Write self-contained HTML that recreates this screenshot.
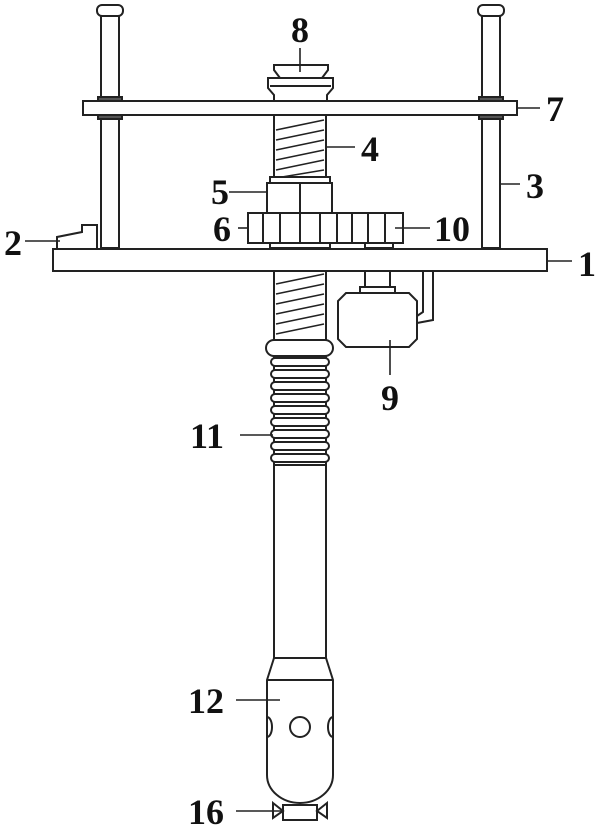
<!DOCTYPE html>
<html><head><style>html,body{margin:0;padding:0;background:#fff}svg{display:block}</style></head><body>
<svg width="600" height="830" viewBox="0 0 600 830" xmlns="http://www.w3.org/2000/svg">
<g fill="none" stroke="#222" stroke-width="2">
<!-- rods -->
<rect x="101" y="16" width="18" height="232" fill="#fff"/>
<rect x="482" y="16" width="18" height="232" fill="#fff"/>
<rect x="97" y="5" width="26" height="11" rx="5" fill="#fff"/>
<rect x="478" y="5" width="26" height="11" rx="5" fill="#fff"/>
<rect x="98" y="97" width="24" height="4" fill="#555"/>
<rect x="98" y="115" width="24" height="4" fill="#555"/>
<rect x="479" y="97" width="24" height="4" fill="#555"/>
<rect x="479" y="115" width="24" height="4" fill="#555"/>
<!-- top knob 8 -->
<path d="M274 65 H328 V70 L322 78 H280 L274 70 Z" fill="#fff"/>
<path d="M268 78 H333 V88 L327 95 V101 H274 V95 L268 88 Z" fill="#fff"/>
<line x1="270" y1="86" x2="331" y2="86"/>
<!-- top plate 7 -->
<rect x="83" y="101" width="434" height="14" fill="#fff"/>
<!-- screw upper -->
<rect x="274" y="115" width="52" height="63" fill="#fff"/>
<g stroke-width="1.6">
<line x1="276" y1="130" x2="324" y2="120"/><line x1="276" y1="140" x2="324" y2="130"/>
<line x1="276" y1="150" x2="324" y2="140"/><line x1="276" y1="160" x2="324" y2="150"/>
<line x1="276" y1="170" x2="324" y2="160"/><line x1="276" y1="178" x2="324" y2="170"/>
</g>
<!-- nut 5 -->
<rect x="270" y="177" width="60" height="6" fill="#fff"/>
<rect x="267" y="183" width="65" height="30" fill="#fff"/>
<line x1="300" y1="183" x2="300" y2="213"/>
<!-- gear 6/10 -->
<rect x="248" y="213" width="155" height="30" fill="#fff"/>
<g>
<line x1="263" y1="213" x2="263" y2="243"/><line x1="280" y1="213" x2="280" y2="243"/>
<line x1="300" y1="213" x2="300" y2="243"/><line x1="320" y1="213" x2="320" y2="243"/>
<line x1="337" y1="213" x2="337" y2="243"/><line x1="352" y1="213" x2="352" y2="243"/>
<line x1="368" y1="213" x2="368" y2="243"/><line x1="385" y1="213" x2="385" y2="243"/>
</g>
<rect x="270" y="243" width="60" height="5" fill="#fff"/>
<rect x="365" y="243" width="28" height="5" fill="#fff"/>
<!-- block 2 -->
<path d="M57 248 V237 L82 232 V225 H97 V248" fill="#fff"/>
<!-- base plate 1 -->
<rect x="53" y="249" width="494" height="22" fill="#fff"/>
<!-- screw lower -->
<rect x="274" y="271" width="52" height="70" fill="#fff"/>
<g stroke-width="1.6">
<line x1="276" y1="284" x2="324" y2="274"/><line x1="276" y1="294" x2="324" y2="284"/>
<line x1="276" y1="304" x2="324" y2="294"/><line x1="276" y1="314" x2="324" y2="304"/>
<line x1="276" y1="324" x2="324" y2="314"/><line x1="276" y1="334" x2="324" y2="324"/>
</g>
<!-- motor 9 -->
<rect x="365" y="271" width="25" height="18" fill="#fff"/>
<rect x="360" y="287" width="35" height="6" fill="#fff"/>
<path d="M346 293 H409 L417 301 V339 L409 347 H346 L338 339 V301 Z" fill="#fff"/>
<path d="M423 271 V312 L417 316 M433 271 V320 L417 323"/>
<!-- collar -->
<rect x="266" y="340" width="67" height="16" rx="8" fill="#fff"/>
<!-- bellows -->
<rect x="274" y="356" width="52" height="110" fill="#fff"/>
<g fill="#fff">
<rect x="271" y="358" width="58" height="8" rx="4"/><rect x="271" y="370" width="58" height="8" rx="4"/>
<rect x="271" y="382" width="58" height="8" rx="4"/><rect x="271" y="394" width="58" height="8" rx="4"/>
<rect x="271" y="406" width="58" height="8" rx="4"/><rect x="271" y="418" width="58" height="8" rx="4"/>
<rect x="271" y="430" width="58" height="8" rx="4"/><rect x="271" y="442" width="58" height="8" rx="4"/>
<rect x="271" y="454" width="58" height="8" rx="4"/>
</g>
<!-- tube -->
<rect x="274" y="465" width="52" height="193" fill="#fff"/>
<path d="M274 658 L267 680 V775 A33 28 0 0 0 333 775 V680 L326 658 Z" fill="#fff"/>
<line x1="267" y1="680" x2="333" y2="680"/>
<circle cx="300" cy="727" r="10"/>
<path d="M267 717 A5 10 0 0 1 267 737"/>
<path d="M333 717 A5 10 0 0 0 333 737"/>
<!-- nozzle 16 -->
<rect x="283" y="805" width="34" height="15" fill="#fff"/>
<path d="M273 803 L283 811 L273 818 Z M327 803 L317 811 L327 818 Z" fill="#fff"/>
<!-- leader lines -->
<g stroke-width="1.6">
<line x1="300" y1="48" x2="300" y2="72"/>
<line x1="517" y1="108" x2="540" y2="108"/>
<line x1="326" y1="147" x2="355" y2="147"/>
<line x1="500" y1="184" x2="520" y2="184"/>
<line x1="229" y1="192" x2="268" y2="192"/>
<line x1="238" y1="228" x2="248" y2="228"/>
<line x1="395" y1="228" x2="430" y2="228"/>
<line x1="25" y1="241" x2="60" y2="241"/>
<line x1="547" y1="261" x2="572" y2="261"/>
<line x1="390" y1="340" x2="390" y2="375"/>
<line x1="240" y1="435" x2="273" y2="435"/>
<line x1="236" y1="700" x2="280" y2="700"/>
<line x1="236" y1="811" x2="283" y2="811"/>
</g>
</g>
<g font-family="Liberation Serif, serif" font-weight="bold" font-size="36" fill="#111" text-anchor="middle">
<text x="300" y="42">8</text>
<text x="555" y="121">7</text>
<text x="370" y="161">4</text>
<text x="535" y="198">3</text>
<text x="220" y="204">5</text>
<text x="222" y="241">6</text>
<text x="452" y="241">10</text>
<text x="13" y="255">2</text>
<text x="587" y="276">1</text>
<text x="390" y="410">9</text>
<text x="207" y="448">11</text>
<text x="206" y="713">12</text>
<text x="206" y="824">16</text>
</g>
</svg>
</body></html>
